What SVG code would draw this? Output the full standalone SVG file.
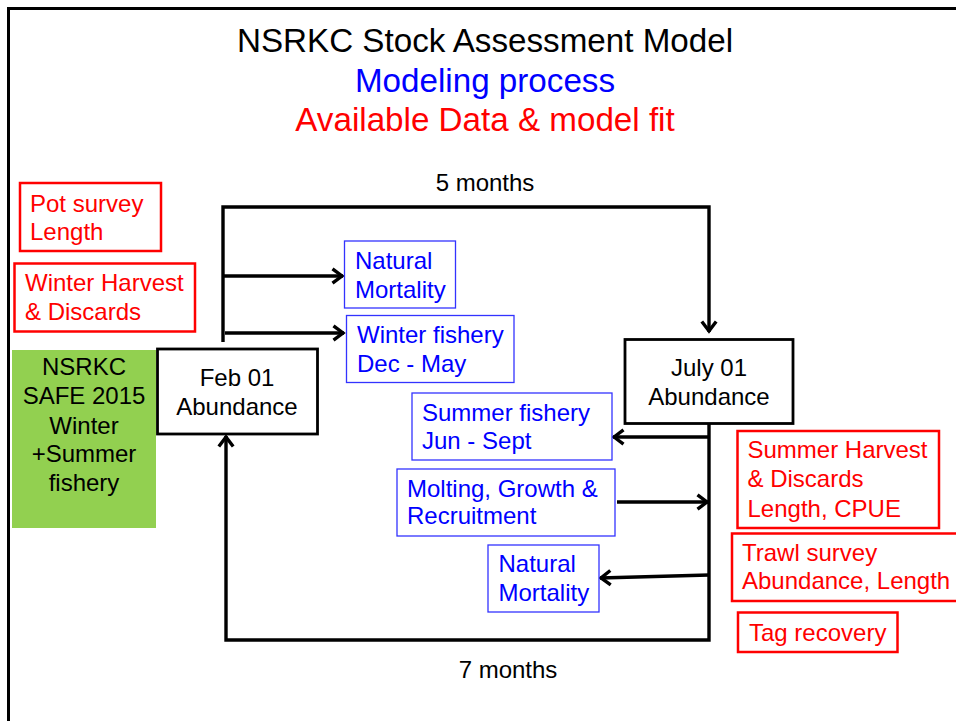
<svg xmlns="http://www.w3.org/2000/svg" width="956" height="721" viewBox="0 0 956 721">
<style>
text{font-family:"Liberation Sans",Arial,sans-serif;font-size:24px}
.t{font-size:33.2px}
.blk{fill:#000}
.blu{fill:#0000FF}
.red{fill:#FF0000}
.bbox{fill:#fff;stroke:#3333FF;stroke-width:1.3}
.rbox{fill:#fff;stroke:#FF0000;stroke-width:2.5}
.kbox{fill:#fff;stroke:#000;stroke-width:2.8}
.line{fill:none;stroke:#000;stroke-width:3.4}
.mid{text-anchor:middle}
</style>
<defs>
<marker id="ah" viewBox="0 0 14 18" refX="12.5" refY="9" markerWidth="14" markerHeight="18" markerUnits="userSpaceOnUse" orient="auto">
<path d="M2,1.8 L11.5,9 L2,16.2" fill="none" stroke="#000" stroke-width="3.4"/>
</marker>
</defs>
<rect width="956" height="721" fill="#fff"/>
<path d="M8.5,721 V8.5 H956" fill="none" stroke="#000" stroke-width="3"/>
<g id="titles">
<text class="t blk mid" x="485" y="52">NSRKC Stock Assessment Model</text>
<text class="t blu mid" x="485" y="92">Modeling process</text>
<text class="t red mid" x="485" y="131">Available Data &amp; model fit</text>
<text class="blk mid" x="485" y="191">5 months</text>
<text class="blk mid" x="508" y="678">7 months</text>
</g>
<g id="connectors">
<path class="line" d="M223,342 V207 H709 V332" marker-end="url(#ah)"/>
<path class="line" d="M223,276 H343" marker-end="url(#ah)"/>
<path class="line" d="M225,333 H344" marker-end="url(#ah)"/>
<path class="line" d="M709,424 V640 H226 V436" marker-end="url(#ah)"/>
<path class="line" d="M709,437 H613" marker-end="url(#ah)"/>
<path class="line" d="M617,502 H708" marker-end="url(#ah)"/>
<path class="line" d="M709,575 L600,578" marker-end="url(#ah)"/>
</g>
<g id="pot-survey">
<rect class="rbox" x="20" y="183" width="141" height="68"/>
<text class="red" x="30" y="212">Pot survey</text>
<text class="red" x="30" y="240">Length</text>
</g>
<g id="winter-harvest">
<rect class="rbox" x="14.5" y="263.5" width="180.5" height="68"/>
<text class="red" x="25" y="291">Winter Harvest</text>
<text class="red" x="25" y="320">&amp; Discards</text>
</g>
<g id="safe">
<rect x="12" y="350" width="144" height="178" fill="#92D050"/>
<text class="blk mid" x="84" y="375">NSRKC</text>
<text class="blk mid" x="84" y="404">SAFE 2015</text>
<text class="blk mid" x="84" y="434">Winter</text>
<text class="blk mid" x="84" y="462">+Summer</text>
<text class="blk mid" x="84" y="491">fishery</text>
</g>
<g id="feb">
<rect class="kbox" x="157.5" y="349" width="160" height="85"/>
<text class="blk mid" x="237" y="386">Feb 01</text>
<text class="blk mid" x="237" y="415">Abundance</text>
</g>
<g id="july">
<rect class="kbox" x="625" y="339.5" width="168" height="84"/>
<text class="blk mid" x="709" y="376">July 01</text>
<text class="blk mid" x="709" y="405">Abundance</text>
</g>
<g id="natural-mortality-winter">
<rect class="bbox" x="344.5" y="241" width="111" height="67"/>
<text class="blu" x="355" y="269">Natural</text>
<text class="blu" x="355" y="298">Mortality</text>
</g>
<g id="winter-fishery">
<rect class="bbox" x="346.5" y="315.5" width="167.5" height="67"/>
<text class="blu" x="357" y="343">Winter fishery</text>
<text class="blu" x="357" y="372">Dec - May</text>
</g>
<g id="summer-fishery">
<rect class="bbox" x="412" y="393" width="200" height="67"/>
<text class="blu" x="422" y="421">Summer fishery</text>
<text class="blu" x="422" y="449">Jun - Sept</text>
</g>
<g id="molting">
<rect class="bbox" x="397" y="469" width="218" height="67"/>
<text class="blu" x="407" y="497">Molting, Growth &amp;</text>
<text class="blu" x="407" y="524">Recruitment</text>
</g>
<g id="natural-mortality-summer">
<rect class="bbox" x="488" y="545" width="111" height="67"/>
<text class="blu" x="498.5" y="572">Natural</text>
<text class="blu" x="498.5" y="601">Mortality</text>
</g>
<g id="summer-harvest">
<rect class="rbox" x="737.5" y="431" width="201.5" height="97"/>
<text class="red" x="747.5" y="458">Summer Harvest</text>
<text class="red" x="747.5" y="487">&amp; Discards</text>
<text class="red" x="747.5" y="517">Length, CPUE</text>
</g>
<g id="trawl-survey">
<rect class="rbox" x="732" y="533.5" width="240" height="67.5"/>
<text class="red" x="742" y="561">Trawl survey</text>
<text class="red" x="742" y="589">Abundance, Length</text>
</g>
<g id="tag-recovery">
<rect class="rbox" x="738" y="612.5" width="159.5" height="39.5"/>
<text class="red" x="749" y="641">Tag recovery</text>
</g>
</svg>
